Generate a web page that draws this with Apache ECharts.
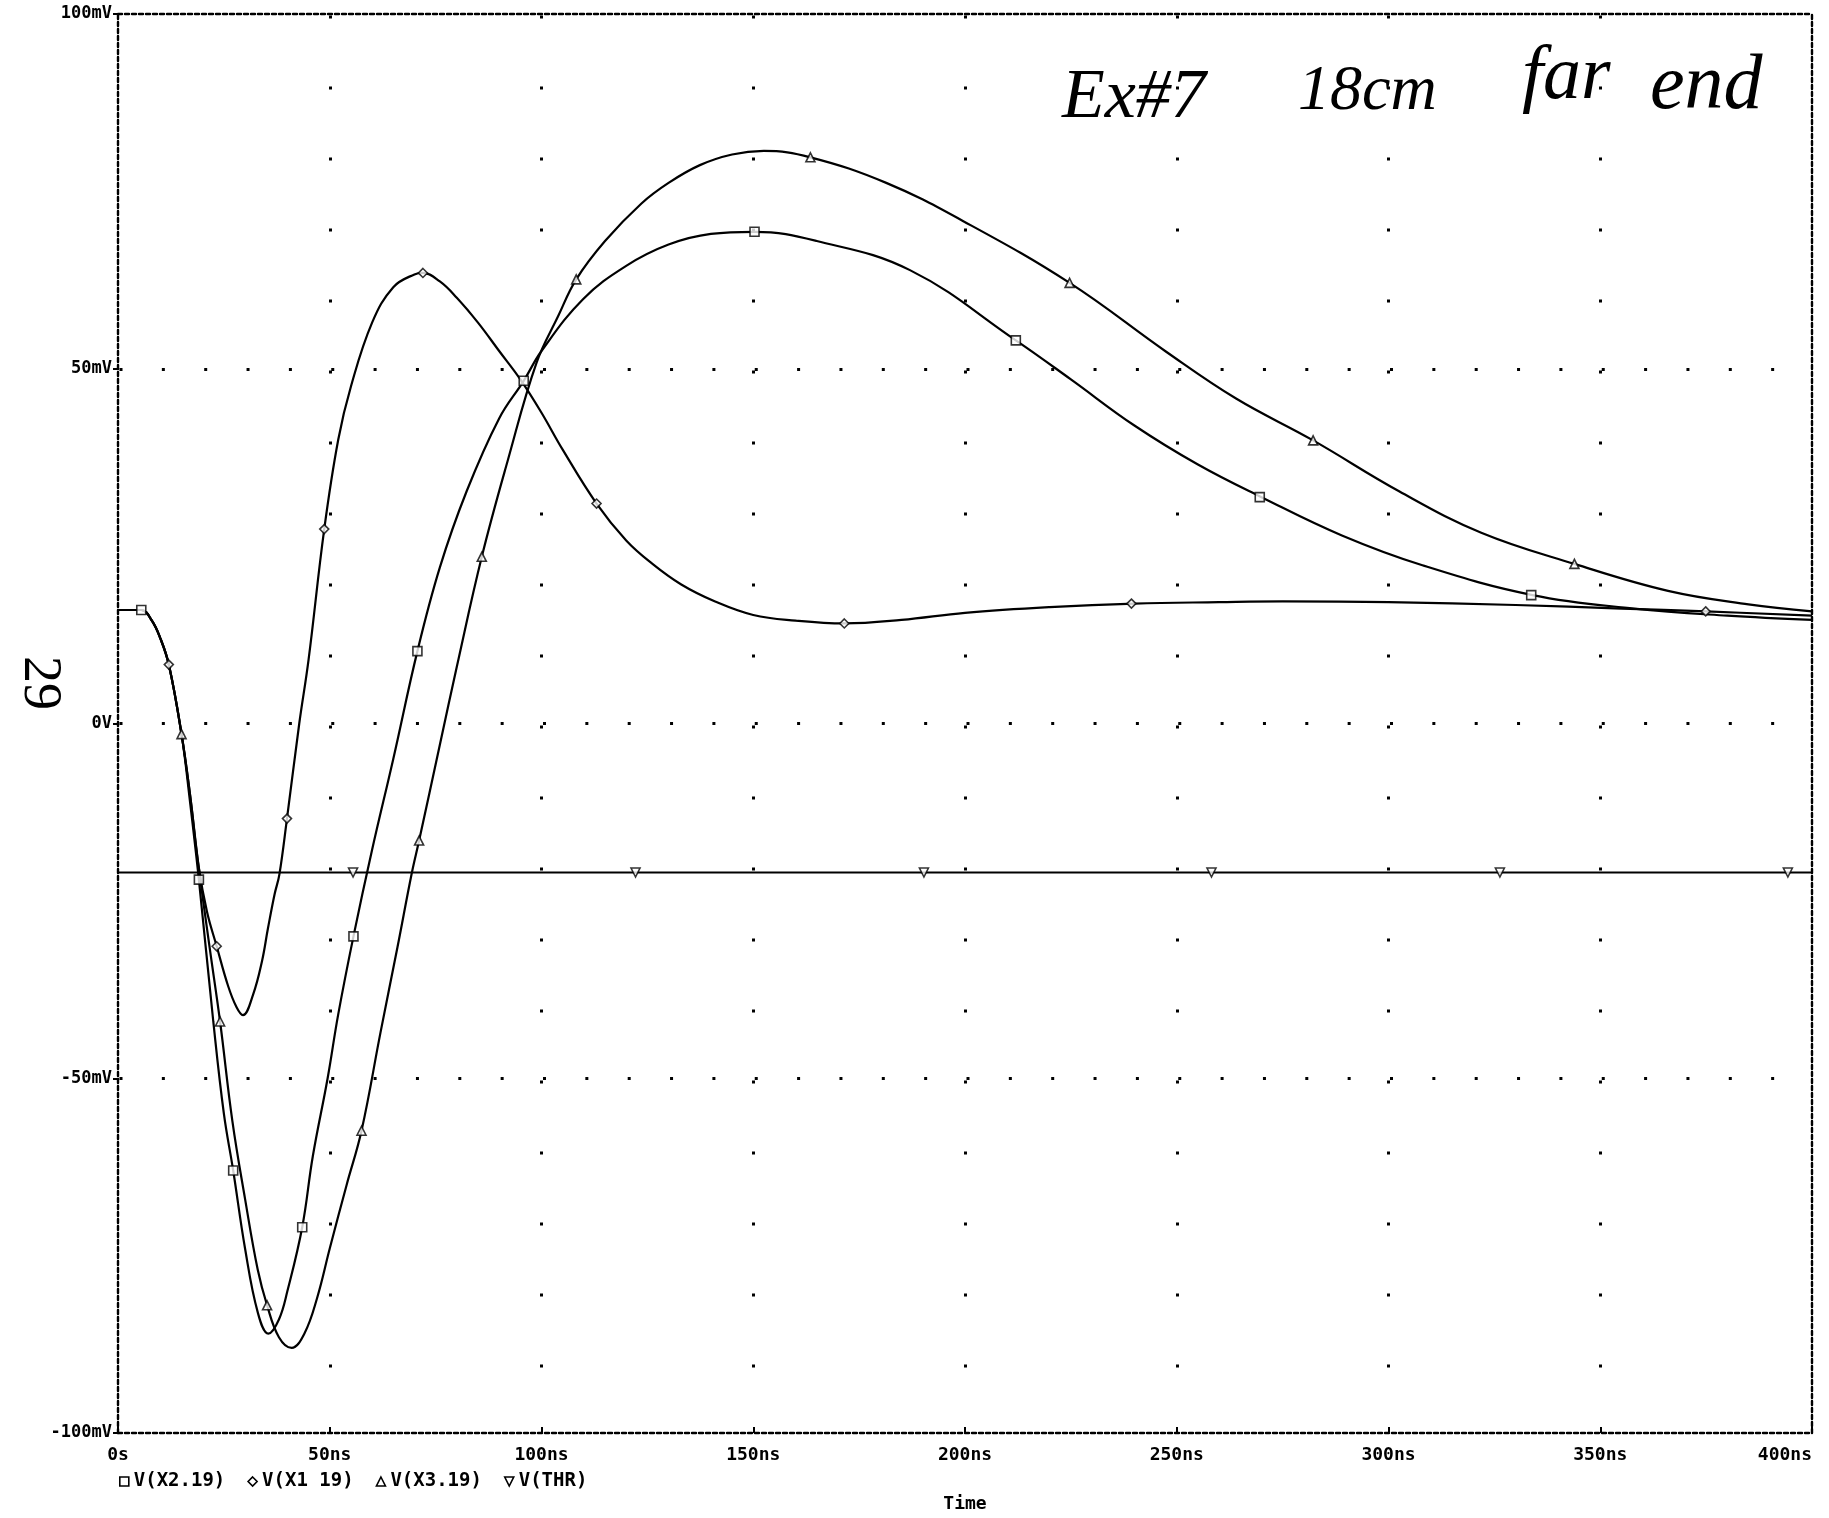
<!DOCTYPE html>
<html>
<head>
<meta charset="utf-8">
<script src="https://cdn.jsdelivr.net/npm/echarts@6/dist/echarts.min.js"></script>
<style>
  html, body { margin: 0; padding: 0; background: #fff; }
  #chart { width: 1829px; height: 1518px; }
</style>
</head>
<body>
<div id="chart"></div>
<script>
// time in ns, voltage in mV

// V(X2,19)  (square markers)
const x2Time = [0, 5.5, 8, 10, 12, 15, 17, 19.1, 22.5, 25, 27.2, 30, 33, 35.5, 38, 40, 43.5, 46, 49.5, 52, 55.6, 60, 65, 70.7, 76, 82.3, 90, 95.8, 100, 109.8, 120, 130, 140, 150.3, 165, 187, 212, 225, 240, 255, 270, 289, 308, 334, 358, 380, 400];
const x2Volt = [16, 16, 14.5, 12, 8.3, -1.5, -11, -22, -42, -55, -63, -74, -83, -86, -84, -80, -71, -61, -50, -41, -30, -17.8, -5, 10.2, 22, 32.7, 43, 48.3, 52.5, 59.8, 64.5, 67.5, 69, 69.3, 68, 63.9, 54, 48.5, 42, 36.5, 31.9, 26.5, 22.3, 18.1, 16.2, 15.2, 14.6];
const x2MarkTime = [5.5, 19.1, 27.2, 43.5, 55.6, 70.7, 95.8, 150.3, 212, 269.6, 333.7];
const x2MarkVolt = [16, -22, -63, -71, -30, 10.2, 48.3, 69.3, 54, 31.9, 18.1];

// V(X1 19)  (diamond markers)
const x1Time = [0, 5.5, 8, 10, 12, 15, 17, 19, 21, 23.3, 26, 28, 29.5, 31.9, 34, 35.4, 37, 38.1, 39.9, 42.8, 45, 48.7, 52, 55, 60, 65, 70, 72, 76, 80, 85, 90, 95, 100, 105, 113, 120, 126, 133, 141, 150, 160, 171.5, 185, 200, 220, 240, 260, 275, 300, 330, 355, 375, 400];
const x1Volt = [16, 16, 14.5, 12, 8.3, -1.5, -10, -20, -26.5, -31.4, -37, -40, -41.1, -38.2, -33.5, -28.9, -24, -21.3, -13.4, 0, 9, 27.4, 40, 47.5, 56.5, 61.5, 63.3, 63.5, 62.3, 60, 56.5, 52.5, 48.5, 43.8, 38.6, 31, 25.8, 22.6, 19.6, 17.2, 15.3, 14.5, 14.1, 14.6, 15.6, 16.4, 16.9, 17.1, 17.2, 17.1, 16.7, 16.2, 15.8, 15.2];
const x1MarkTime = [12, 23.3, 39.9, 48.7, 72, 113, 171.5, 239.3, 374.9];
const x1MarkVolt = [8.3, -31.4, -13.4, 27.4, 63.5, 31, 14.1, 16.9, 15.8];

// V(X3,19)  (triangle markers)
const x3Time = [0, 5.5, 8, 10, 12, 15, 17, 19, 21.5, 24.1, 27, 30, 33, 35.2, 38, 41, 44, 47, 50, 54, 57.5, 62, 66, 69.4, 71.1, 76, 80, 85.9, 92, 98.8, 104, 108.2, 115, 123.6, 130, 137.4, 145, 152.5, 163.5, 181.4, 199.6, 224.7, 247.5, 264, 282.2, 302.6, 321.9, 343.9, 366, 385, 400];
const x3Volt = [16, 16, 14.5, 12, 8.3, -1.5, -10, -20, -31, -42, -56, -67, -77, -82, -86.5, -88, -86, -81, -74, -65, -57.4, -43.5, -31.5, -21, -16.5, -3, 8, 23.5, 37, 50.8, 57.5, 62.6, 68, 73.3, 76.2, 78.7, 80.2, 80.7, 79.8, 76.2, 70.8, 62.1, 52.4, 45.8, 39.9, 32.7, 26.9, 22.5, 18.7, 16.8, 15.8];
const x3MarkTime = [15, 24.1, 35.2, 57.5, 71.1, 85.9, 108.2, 163.5, 224.7, 282.2, 343.9];
const x3MarkVolt = [-1.5, -42, -82, -57.4, -16.5, 23.5, 62.6, 79.8, 62.1, 39.9, 22.5];

// V(THR)  (inverted triangle markers)
const thrTime = [0, 400];
const thrVolt = [-21, -21];
const thrMarkTime = [55.5, 122.2, 190.3, 258.2, 326.3, 394.3];
const thrMarkVolt = [-21, -21, -21, -21, -21, -21];

const seriesNames = ['V(X2.19)', 'V(X1 19)', 'V(X3.19)', 'V(THR)'];
const xTicks = [0, 50, 100, 150, 200, 250, 300, 350, 400];
const yTicks = [-100, -50, 0, 50, 100];

function zip(a, b) {
  return a.map((v, i) => [v, b[i]]);
}

const mono = 'DejaVu Sans Mono';
const hollow = { color: '#fff', borderColor: '#000', borderWidth: 1.6 };
const border = { color: '#000', width: 2.4, type: [4, 3] };

function lineSeries(name, t, v) {
  return {
    name: name, type: 'line', data: zip(t, v),
    symbol: 'none', smooth: 0.4,
    lineStyle: { color: '#000', width: 2.2 }, z: 3
  };
}

function markSeries(name, t, v, symbol, rotate) {
  return {
    name: name, type: 'scatter', data: zip(t, v),
    symbol: symbol, symbolSize: 9, symbolRotate: rotate || 0,
    itemStyle: hollow, z: 4
  };
}

const chart = echarts.init(document.getElementById('chart'));

const option = {
  animation: false,
  backgroundColor: '#fff',
  grid: { left: 118, right: 17, top: 14, bottom: 84 },
  legend: {
    left: 114, top: 1467,
    itemWidth: 9, itemHeight: 9, itemGap: 22,
    selectedMode: false,
    itemStyle: hollow,
    textStyle: { fontFamily: mono, fontWeight: 'bold', fontSize: 19, color: '#000' },
    data: [
      { name: seriesNames[0], icon: 'rect' },
      { name: seriesNames[1], icon: 'diamond' },
      { name: seriesNames[2], icon: 'triangle' },
      { name: seriesNames[3], icon: 'path://M0,0 L10,0 L5,10 Z' }
    ]
  },
  xAxis: [{
    type: 'value', min: xTicks[0], max: xTicks[xTicks.length - 1], interval: 50,
    name: 'Time', nameLocation: 'middle', nameGap: 62,
    nameTextStyle: { fontFamily: mono, fontWeight: 'bold', fontSize: 18, color: '#000' },
    axisLine: { show: true, onZero: false, lineStyle: border },
    axisTick: { show: true, inside: true, length: 6, lineStyle: { color: '#000', width: 2 } },
    axisLabel: {
      margin: 13, fontFamily: mono, fontWeight: 'bold', fontSize: 18, color: '#000',
      alignMaxLabel: 'right',
      formatter: v => v === 0 ? '0s' : v + 'ns'
    },
    splitLine: {
      show: true, showMinLine: false, showMaxLine: false,
      lineStyle: { color: '#000', width: 3, type: [3, 68], dashOffset: 69.5, cap: 'butt' }
    }
  }, {
    type: 'value', position: 'top', min: 0, max: 400, interval: 50,
    axisLine: { show: true, onZero: false, lineStyle: border },
    axisTick: { show: false }, axisLabel: { show: false }, splitLine: { show: false }
  }],
  yAxis: [{
    type: 'value', min: yTicks[0], max: yTicks[yTicks.length - 1], interval: 50,
    axisLine: { show: true, onZero: false, lineStyle: border },
    axisTick: { show: true, length: 5, lineStyle: { color: '#000', width: 2 } },
    axisLabel: {
      margin: 6, fontFamily: mono, fontWeight: 'bold', fontSize: 17, color: '#000',
      formatter: v => v === 0 ? '0V' : v + 'mV'
    },
    splitLine: {
      show: true, showMinLine: false, showMaxLine: false,
      lineStyle: { color: '#000', width: 3, type: [3, 39.35], dashOffset: 40.85, cap: 'butt' }
    }
  }, {
    type: 'value', position: 'right', min: -100, max: 100, interval: 50,
    axisLine: { show: true, onZero: false, lineStyle: border },
    axisTick: { show: false }, axisLabel: { show: false }, splitLine: { show: false }
  }],
  graphic: [
    {
      type: 'text', left: 12, top: 656, rotation: -Math.PI / 2,
      style: { text: '29', font: '54px "Liberation Serif"', fill: '#000' }
    },
    { type: 'text', x: 1062, y: 64, style: { text: 'Ex#7', font: 'italic 70px "Liberation Serif"', fill: '#000' } },
    { type: 'text', x: 1298, y: 60, style: { text: '18cm', font: 'italic 64px "Liberation Serif"', fill: '#000' } },
    { type: 'text', x: 1522, y: 40, style: { text: 'far', font: 'italic 76px "Liberation Serif"', fill: '#000' } },
    { type: 'text', x: 1650, y: 48, style: { text: 'end', font: 'italic 78px "Liberation Serif"', fill: '#000' } }
  ],
  series: [
    lineSeries(seriesNames[0], x2Time, x2Volt),
    lineSeries(seriesNames[1], x1Time, x1Volt),
    lineSeries(seriesNames[2], x3Time, x3Volt),
    lineSeries(seriesNames[3], thrTime, thrVolt),
    markSeries(seriesNames[0], x2MarkTime, x2MarkVolt, 'rect'),
    markSeries(seriesNames[1], x1MarkTime, x1MarkVolt, 'diamond'),
    markSeries(seriesNames[2], x3MarkTime, x3MarkVolt, 'triangle'),
    markSeries(seriesNames[3], thrMarkTime, thrMarkVolt, 'triangle', 180)
  ]
};

chart.setOption(option);
</script>
</body>
</html>
